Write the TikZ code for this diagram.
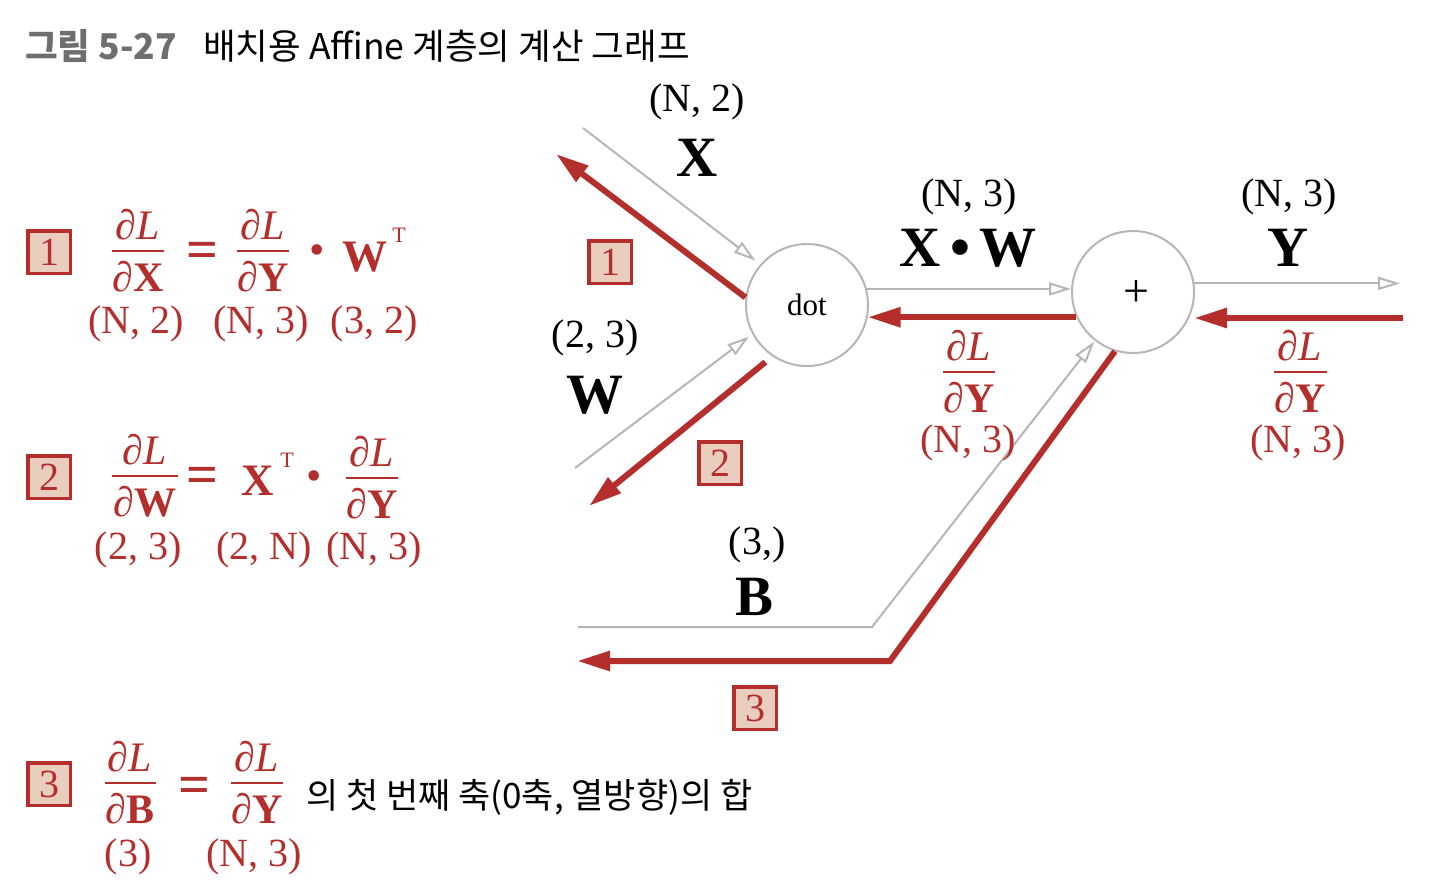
\documentclass[tikz,border=0pt]{standalone}
\usepackage{fontspec}
\setmainfont{Liberation Serif}
\newfontfamily\kr{Noto Sans CJK KR}
\usetikzlibrary{arrows.meta,calc}
\definecolor{dred}{RGB}{180,46,44}
\definecolor{boxfill}{RGB}{233,205,190}
\definecolor{lgray}{RGB}{182,182,182}
\definecolor{tgray}{RGB}{110,110,110}
\newcommand\fs[1]{\fontsize{#1}{#1}\selectfont}
% name, x, y of rule, rule width, denominator letter
\newcommand\mkfrac[5]{%
  \node[fracrule, minimum width=#4pt] (#1) at (#2,#3) {};
  \node[fractxt, anchor=base] (#1n) at (#2,#3-12) {∂\textit{L}};
  \node[fractxt, anchor=base] (#1d) at (#2,#3+40) {∂\textbf{#5}};
}
\begin{document}
\begin{tikzpicture}[x=1pt,y=-1pt,
  lbl/.style={inner sep=0, font=\fs{40}},
  big/.style={inner sep=0, font=\fs{57}\bfseries},
  rlbl/.style={lbl, text=dred},
  rbig/.style={inner sep=0, text=dred, font=\fs{45}\bfseries},
  rsup/.style={inner sep=0, text=dred, font=\fs{22}},
  req/.style={inner sep=0, text=dred, font=\fs{56}\bfseries},
  rdot/.style={inner sep=0, text=dred, font=\fs{44}},
  numbox/.style={draw=dred, line width=3.5pt, fill=boxfill, minimum size=42.5pt, inner sep=0, text=dred, font=\fs{40}},
  circ/.style={circle, draw=lgray, line width=2pt, minimum size=122pt, inner sep=0, fill=white, font=\fs{31}},
  gline/.style={draw=lgray, line width=2pt},
  garr/.style={gline, -{Triangle[open, length=22pt, width=13pt]}},
  rarr/.style={draw=dred, line width=6pt, -{Triangle[length=33pt, width=19pt]}},
  fractxt/.style={inner sep=0, text=dred, font=\fs{42}},
  fracrule/.style={fill=dred, inner sep=0, minimum height=2.5pt},
]
\useasboundingbox[fill=white] (0,0) rectangle (1429,895);

% title
\node[anchor=base west, inner sep=0, font=\kr\fs{35.5}\bfseries, text=tgray] (title1) at (25,59) {그림 5-27};
\node[anchor=base west, inner sep=0, font=\kr\fs{35.5}] (title2) at (203,59) {배치용 Affine 계층의 계산 그래프};

% graph nodes
\node[circ] (dot) at (807,305) {dot};
\node[circ, font=\fs{46}] (plus) at (1133,292) {};
\node[inner sep=0, font=\fs{46}] (plussign) at (1136,293) {+};

\coordinate (xin) at (583,128);
\coordinate (xout) at (556,154);
\coordinate (win) at (575,468);
\coordinate (wout) at (589,506);
\coordinate (yout) at (1400,284);
\coordinate (yin) at (1403,318);
\coordinate (bin) at (578,627);
\coordinate (bc1) at (872,627);
\coordinate (bc2) at (890,661);
\coordinate (bout) at (577,661);

% forward (gray)
\draw[garr, shorten >=6pt] (xin) -- (dot.139);
\draw[garr, shorten >=4pt] (win) -- (dot.208);
\draw[garr] (dot.15) -- (plus.west |- dot.15);
\draw[garr] (plus.8) -- (plus.8 -| yout);
\draw[garr, shorten >=1pt] (bin) -- (bc1) -- (plus.232);

% backward (red)
\draw[rarr] (dot.173) -- (xout);
\draw[rarr, shorten <=9pt] (dot.236) -- (wout);
\draw[rarr] (plus.204) -- (dot.-12 |- plus.204);
\draw[rarr, shorten >=4pt] (yin) -- (plus.-23 |- yin);
\draw[rarr] (plus.253) -- (bc2) -- (bout);

% graph labels
\node[lbl] (lx1) at (697,102) {(N, 2)};
\node[big] (lx) at (697,158) {X};
\node[lbl] (lw1) at (595,338) {(2, 3)};
\node[big] (lw) at (595,395) {W};
\node[lbl] (lxw1) at (969,197) {(N, 3)};
\node[big] (lxw) at (968,248) {X\,\textbullet\,W};
\node[lbl] (ly1) at (1289,197) {(N, 3)};
\node[big] (ly) at (1288,248) {Y};
\node[lbl] (lb1) at (757,545) {(3,)};
\node[big] (lb) at (754,597) {B};

\mkfrac{gxw}{969}{372}{52}{Y}
\node[rlbl] (gxw3) at (968,443) {(N, 3)};
\mkfrac{gy}{1300}{372}{53}{Y}
\node[rlbl] (gy3) at (1298,443) {(N, 3)};

\node[numbox] (g1) at (610,262) {1};
\node[numbox] (g2) at (720,463) {2};
\node[numbox] (g3) at (755,708) {3};

% equation 1
\node[numbox] (b1) at (49,252) {1};
\mkfrac{fa}{138}{251}{52}{X}
\node[req] (eqa) at (202,255) {=};
\mkfrac{fb}{263}{251}{52}{Y}
\node[rdot] (dota) at (317,255) {\textbullet};
\node[rbig] (wa) at (365,257) {W};
\node[rsup] (ta) at (399,235) {T};
\node[rlbl] (ua1) at (136,324) {(N, 2)};
\node[rlbl] (ua2) at (261,324) {(N, 3)};
\node[rlbl] (ua3) at (374,324) {(3, 2)};

% equation 2
\node[numbox] (b2) at (49,477) {2};
\mkfrac{fc}{145}{476}{66}{W}
\node[req] (eqb) at (202,480) {=};
\node[rbig] (xb) at (258,481) {X};
\node[rsup] (tb) at (287,460) {T};
\node[rdot] (dotb) at (314,481) {\textbullet};
\mkfrac{fd}{372}{478}{52}{Y}
\node[rlbl] (ub1) at (138,550) {(2, 3)};
\node[rlbl] (ub2) at (264,550) {(2, N)};
\node[rlbl] (ub3) at (374,550) {(N, 3)};

% equation 3
\node[numbox] (b3) at (49,784) {3};
\mkfrac{fe}{130}{783}{51}{B}
\node[req] (eqc) at (194,790) {=};
\mkfrac{ff}{257}{783}{52}{Y}
\node[anchor=base west, inner sep=0, font=\kr\fs{35}] (sumtxt) at (306,808) {의 첫 번째 축(0축, 열방향)의 합};
\node[rlbl] (uc1) at (128,857) {(3)};
\node[rlbl] (uc2) at (254,857) {(N, 3)};
\end{tikzpicture}
\end{document}
